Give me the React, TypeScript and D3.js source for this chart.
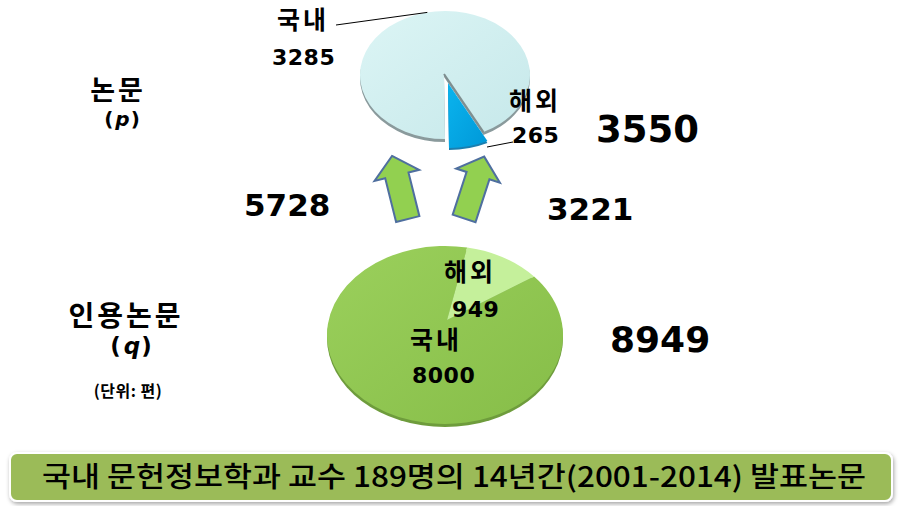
import React from 'react';
import * as d3 from 'd3';

// ---- data ----
const topLabels = ['국내', '해외'];
const topValues = [3285, 265];
const bottomLabels = ['국내', '해외'];
const bottomValues = [8000, 949];
const flowValues = [5728, 3221];
const topTitle = ['논문', 'p'];
const bottomTitle = ['인용논문', 'q'];
const unitLabel = '(단위: 편)';
const bannerText = '국내 문헌정보학과 교수 189명의 14년간(2001-2014) 발표논문';

const KR = '"Noto Sans CJK KR", "Noto Sans", sans-serif';
const NUM = '"DejaVu Sans", Verdana, sans-serif';

type Ell = { cx: number; cy: number; rx: number; ry: number; ax: number; ay: number };

function ept(e: Ell, a: number): [number, number] {
  return [e.cx + e.rx * Math.sin(a), e.cy - e.ry * Math.cos(a)];
}

function slicePath(e: Ell, a0: number, a1: number, dx = 0, dy = 0): string {
  const p0 = ept(e, a0);
  const p1 = ept(e, a1);
  const large = a1 - a0 > Math.PI ? 1 : 0;
  return `M${e.ax + dx},${e.ay + dy}L${p0[0] + dx},${p0[1] + dy}A${e.rx},${e.ry} 0 ${large} 1 ${p1[0] + dx},${p1[1] + dy}Z`;
}

const arrowShape: [number, number][] = [
  [0, -33], [23, -13], [12, -13], [12, 32], [-12, 32], [-12, -13], [-23, -13],
];

export default function App() {
  const W = 900, H = 506;

  const topE: Ell = { cx: 445, cy: 75, rx: 85, ry: 64, ax: 444, ay: 74 };
  const botE: Ell = { cx: 445, cy: 335, rx: 118, ry: 89, ax: 447, ay: 320 };

  const topPie = d3.pie<number>().sort(null).startAngle(Math.PI).endAngle(3 * Math.PI)(topValues);
  const deg = Math.PI / 180;
  const botPie = d3.pie<number>().sort(null).startAngle(49 * deg).endAngle(49 * deg + 2 * Math.PI)(bottomValues);

  const line = d3.line();

  const arrow = (cx: number, cy: number, rot: number) =>
    line(arrowShape.map(([x, y]) => {
      const r = rot * deg;
      return [cx + x * Math.cos(r) - y * Math.sin(r), cy + x * Math.sin(r) + y * Math.cos(r)] as [number, number];
    }))! + 'Z';

  const topDom = topPie[0];
  const topFor = topPie[1];
  const explode = [4, 9];

  return (
    <svg width={W} height={H} style={{ position: 'absolute', left: 0, top: 0, background: '#fff' }}>
      <defs>
        <linearGradient id="cyan" x1="0" y1="0" x2="1" y2="1">
          <stop offset="0" stopColor="#dcf5f5" />
          <stop offset="1" stopColor="#c6e8ea" />
        </linearGradient>
        <linearGradient id="blue" x1="0" y1="0" x2="1" y2="1">
          <stop offset="0" stopColor="#0ab4ee" />
          <stop offset="1" stopColor="#0098d8" />
        </linearGradient>
        <linearGradient id="green" x1="0" y1="0" x2="1" y2="1">
          <stop offset="0" stopColor="#9bd05c" />
          <stop offset="1" stopColor="#86bd48" />
        </linearGradient>
        <filter id="shadow" x="-5%" y="-30%" width="110%" height="170%">
          <feDropShadow dx="1" dy="2" stdDeviation="2" floodColor="#000" floodOpacity="0.35" />
        </filter>
      </defs>

      {/* top pie */}
      <path d={slicePath(topE, topDom.startAngle, topDom.endAngle, 0, 3)} fill="#8a9a9c" />
      <path d={slicePath(topE, topDom.startAngle, topDom.endAngle)} fill="url(#cyan)" />
      <line x1={topE.ax} y1={topE.ay} x2={ept(topE, topDom.endAngle)[0]} y2={ept(topE, topDom.endAngle)[1]} stroke="#7f8f90" strokeWidth={2} />
      <path d={slicePath(topE, topFor.startAngle, topFor.endAngle, explode[0], explode[1] + 2)} fill="#1a7fb0" />
      <path d={slicePath(topE, topFor.startAngle, topFor.endAngle, explode[0], explode[1])} fill="url(#blue)" />

      {/* top pie labels */}
      <line x1={336} y1={25} x2={ept(topE, -12 * deg)[0]} y2={ept(topE, -12 * deg)[1]} stroke="#000" strokeWidth={1} />
      <text x={277} y={29} fontFamily={KR} fontWeight={700} fontSize={25} letterSpacing={3}>{topLabels[0]}</text>
      <text x={272} y={65} fontFamily={NUM} fontWeight={700} fontSize={22} letterSpacing={0.5}>{topValues[0]}</text>
      <line x1={487} y1={147} x2={513} y2={142} stroke="#000" strokeWidth={1} />
      <text x={509} y={110} fontFamily={KR} fontWeight={700} fontSize={25} letterSpacing={3}>{topLabels[1]}</text>
      <text x={512} y={143} fontFamily={NUM} fontWeight={700} fontSize={22} letterSpacing={0.5}>{topValues[1]}</text>

      {/* arrows */}
      <path d={arrow(400, 188, -14)} fill="#92d050" stroke="#4f6f9f" strokeWidth={2} strokeLinejoin="miter" />
      <path d={arrow(474, 188, 18)} fill="#92d050" stroke="#4f6f9f" strokeWidth={2} strokeLinejoin="miter" />

      {/* bottom pie */}
      <ellipse cx={botE.cx} cy={botE.cy + 3} rx={botE.rx} ry={botE.ry} fill="#6e9c3c" />
      <path d={slicePath(botE, botPie[0].startAngle, botPie[0].endAngle)} fill="url(#green)" />
      <path d={slicePath(botE, botPie[1].startAngle, botPie[1].endAngle)} fill="#c5f09b" />
      <text x={444} y={281} fontFamily={KR} fontWeight={700} fontSize={25} letterSpacing={3}>{bottomLabels[1]}</text>
      <text x={452} y={317} fontFamily={NUM} fontWeight={700} fontSize={22} letterSpacing={0.5}>{bottomValues[1]}</text>
      <text x={410} y={349} fontFamily={KR} fontWeight={700} fontSize={25} letterSpacing={3}>{bottomLabels[0]}</text>
      <text x={412} y={383} fontFamily={NUM} fontWeight={700} fontSize={22} letterSpacing={0.5}>{bottomValues[0]}</text>

      {/* totals and flows */}
      <text x={596} y={142} fontFamily={NUM} fontWeight={700} fontSize={37}>{d3.sum(topValues)}</text>
      <text x={610} y={352} fontFamily={NUM} fontWeight={700} fontSize={36}>{d3.sum(bottomValues)}</text>
      <text x={244} y={216} fontFamily={NUM} fontWeight={700} fontSize={31}>{flowValues[0]}</text>
      <text x={547} y={220} fontFamily={NUM} fontWeight={700} fontSize={31}>{flowValues[1]}</text>

      {/* left titles */}
      <text x={118} y={100} textAnchor="middle" fontFamily={KR} fontWeight={700} fontSize={27} letterSpacing={3}>{topTitle[0]}</text>
      <text x={122} y={126} textAnchor="middle" fontFamily={NUM} fontWeight={700} fontSize={20}>
        (<tspan fontStyle="italic" dx={2}>{topTitle[1]}</tspan><tspan dx={1}>)</tspan>
      </text>
      <text x={126} y={326} textAnchor="middle" fontFamily={KR} fontWeight={700} fontSize={28} letterSpacing={3}>{bottomTitle[0]}</text>
      <text x={131} y={354} textAnchor="middle" fontFamily={NUM} fontWeight={700} fontSize={23}>
        (<tspan fontStyle="italic" dx={3}>{bottomTitle[1]}</tspan><tspan dx={1}>)</tspan>
      </text>
      <text x={128} y={397} textAnchor="middle" fontFamily={KR} fontWeight={700} fontSize={16} letterSpacing={0.5}>{unitLabel}</text>

      {/* banner */}
      <rect x={10} y={453} width={882} height={48} rx={7} fill="#9bbb59" stroke="#fff" strokeWidth={2} filter="url(#shadow)" />
      <text x={454} y={487} textAnchor="middle" fontFamily={KR} fontWeight={500} fontSize={28} textLength={824} lengthAdjust="spacingAndGlyphs">{bannerText}</text>
    </svg>
  );
}
